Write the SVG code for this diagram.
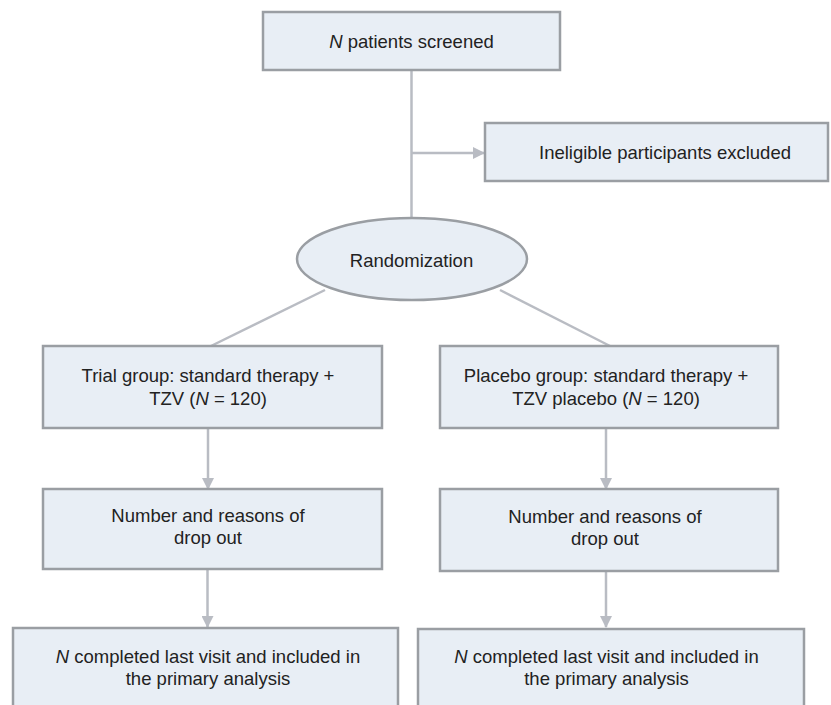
<svg xmlns="http://www.w3.org/2000/svg" width="831" height="705" viewBox="0 0 831 705">
<style>
.box{fill:#e8eef5;stroke:#9a9ea3;stroke-width:2.5}
.t{font-family:"Liberation Sans",Arial,sans-serif;font-size:18.5px;fill:#222;text-anchor:middle}
.c{fill:none;stroke:#b9bcc3;stroke-width:2.5}
</style>
<defs>
<marker id="ah" markerWidth="12" markerHeight="12" refX="11" refY="6" orient="auto" markerUnits="userSpaceOnUse">
<path d="M0,0 L12,6 L0,12 Z" fill="#b9bcc3"/>
</marker>
</defs>
<rect width="831" height="705" fill="#fff"/>
<g id="connectors">
<line class="c" x1="411.5" y1="70" x2="411.5" y2="218"/>
<line class="c" x1="411.5" y1="153" x2="484" y2="153" marker-end="url(#ah)"/>
<line class="c" x1="325" y1="290" x2="210" y2="346.5"/>
<line class="c" x1="500" y1="290" x2="610" y2="346"/>
<line class="c" x1="208" y1="428" x2="208" y2="489" marker-end="url(#ah)"/>
<line class="c" x1="606" y1="428" x2="606" y2="489" marker-end="url(#ah)"/>
<line class="c" x1="207.5" y1="569" x2="207.5" y2="627" marker-end="url(#ah)"/>
<line class="c" x1="606" y1="571" x2="606" y2="627" marker-end="url(#ah)"/>
</g>
<g id="screened">
<rect class="box" x="263" y="12" width="297" height="58"/>
<text class="t" x="411.5" y="48"><tspan font-style="italic">N</tspan> patients screened</text>
</g>
<g id="excluded">
<rect class="box" x="485" y="123" width="343" height="58"/>
<text class="t" x="665" y="158.5">Ineligible participants excluded</text>
</g>
<g id="randomization">
<ellipse class="box" cx="412" cy="259" rx="115" ry="41"/>
<text class="t" x="411.5" y="266.5">Randomization</text>
</g>
<g id="trial">
<rect class="box" x="43" y="346" width="339" height="82"/>
<text class="t" x="208" y="381.5">Trial group: standard therapy +</text>
<text class="t" x="208" y="404.5">TZV (<tspan font-style="italic">N</tspan> = 120)</text>
</g>
<g id="placebo">
<rect class="box" x="440" y="346" width="338" height="82"/>
<text class="t" x="606" y="381.5">Placebo group: standard therapy +</text>
<text class="t" x="606" y="404.5">TZV placebo (<tspan font-style="italic">N</tspan> = 120)</text>
</g>
<g id="dropout-trial">
<rect class="box" x="43" y="489" width="339" height="80"/>
<text class="t" x="208" y="522">Number and reasons of</text>
<text class="t" x="208" y="543.5">drop out</text>
</g>
<g id="dropout-placebo">
<rect class="box" x="440" y="489" width="338" height="82"/>
<text class="t" x="605" y="523">Number and reasons of</text>
<text class="t" x="605" y="544.5">drop out</text>
</g>
<g id="completed-trial">
<rect class="box" x="13" y="628" width="385" height="90"/>
<text class="t" x="208" y="663"><tspan font-style="italic">N</tspan> completed last visit and included in</text>
<text class="t" x="208" y="685">the primary analysis</text>
</g>
<g id="completed-placebo">
<rect class="box" x="418" y="629" width="386" height="90"/>
<text class="t" x="606.5" y="663"><tspan font-style="italic">N</tspan> completed last visit and included in</text>
<text class="t" x="606.5" y="685">the primary analysis</text>
</g>
</svg>
